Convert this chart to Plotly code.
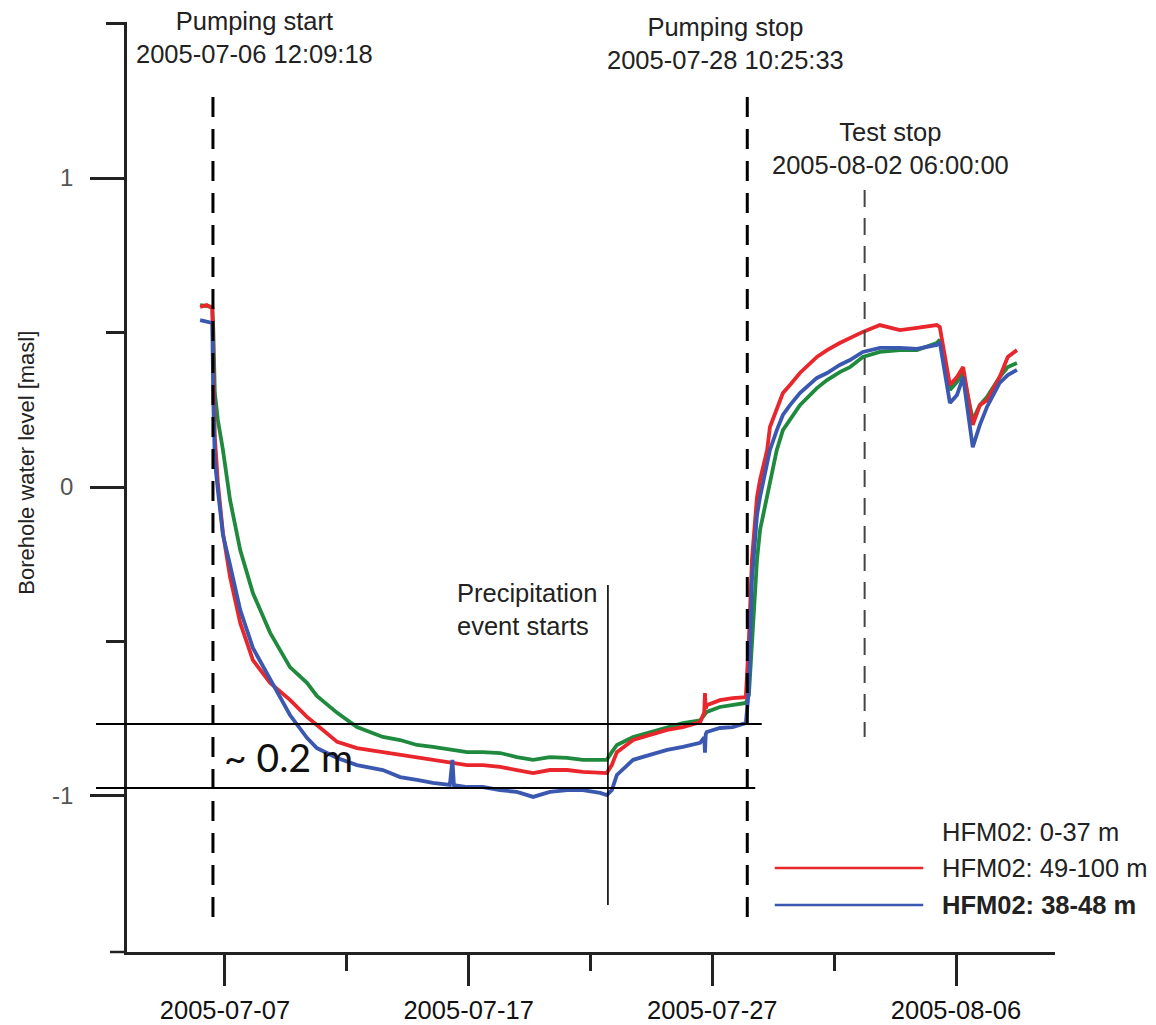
import plotly.graph_objects as go

# ---------------- data ----------------
times = [
    "2005-07-05 23:30", "2005-07-06 06:00", "2005-07-06 11:30", "2005-07-06 12:30",
    "2005-07-06 14:00", "2005-07-06 17:00", "2005-07-06 22:00", "2005-07-07 05:00",
    "2005-07-07 15:00", "2005-07-08 03:30", "2005-07-08 20:30", "2005-07-09 16:00",
    "2005-07-10 08:45", "2005-07-10 18:30", "2005-07-11 14:30", "2005-07-12 10:00",
    "2005-07-13 11:30", "2005-07-14 04:30", "2005-07-14 21:00", "2005-07-15 12:45",
    "2005-07-16 05:30", "2005-07-16 08:00", "2005-07-16 09:30", "2005-07-16 22:30",
    "2005-07-17 14:00", "2005-07-18 07:00", "2005-07-18 23:30", "2005-07-19 15:30",
    "2005-07-20 08:00", "2005-07-21 01:00", "2005-07-21 16:30", "2005-07-22 09:30",
    "2005-07-22 16:00", "2005-07-22 21:00", "2005-07-23 02:00", "2005-07-23 18:00",
    "2005-07-24 10:30", "2005-07-25 03:30", "2005-07-25 19:00", "2005-07-26 12:00",
    "2005-07-26 16:00", "2005-07-26 16:45", "2005-07-26 17:30", "2005-07-26 18:30",
    "2005-07-27 07:30", "2005-07-27 20:00", "2005-07-28 09:00", "2005-07-28 12:00",
    "2005-07-28 15:00", "2005-07-28 18:00", "2005-07-28 20:00", "2005-07-28 23:00",
    "2005-07-29 02:00", "2005-07-29 06:00", "2005-07-29 08:45", "2005-07-29 15:30",
    "2005-07-29 21:30", "2005-07-30 04:30", "2005-07-30 14:15", "2005-07-31 07:00",
    "2005-07-31 17:00", "2005-08-01 05:30", "2005-08-01 15:30", "2005-08-02 04:15",
    "2005-08-02 21:00", "2005-08-03 16:45", "2005-08-04 09:30", "2005-08-05 05:00",
    "2005-08-05 08:00", "2005-08-05 18:00", "2005-08-06 01:00", "2005-08-06 07:00",
    "2005-08-06 16:30", "2005-08-06 23:30", "2005-08-07 06:30", "2005-08-07 19:00",
    "2005-08-08 03:00", "2005-08-08 12:00",
]

green_0_37 = [
    0.589, 0.586, 0.583, 0.508, 0.304, 0.217, 0.120, -0.042,
    -0.204, -0.343, -0.472, -0.583, -0.634, -0.676, -0.731, -0.777,
    -0.809, -0.819, -0.835, -0.841, -0.851, -0.851, -0.852, -0.858,
    -0.858, -0.861, -0.874, -0.883, -0.874, -0.877, -0.883, -0.883,
    -0.883, -0.858, -0.835, -0.809, -0.793, -0.777, -0.764, -0.755,
    -0.740, -0.738, -0.735, -0.728, -0.712, -0.706, -0.699, -0.673,
    -0.495, -0.333, -0.236, -0.139, -0.091, -0.032, 0.006, 0.120,
    0.184, 0.217, 0.265, 0.320, 0.346, 0.372, 0.388, 0.421,
    0.437, 0.443, 0.443, 0.466, 0.476, 0.314, 0.340, 0.369,
    0.217, 0.265, 0.291, 0.356, 0.388, 0.401,
]

red_49_100 = [
    0.583, 0.589, 0.579, 0.346, 0.162, 0.013, -0.149, -0.291,
    -0.440, -0.560, -0.634, -0.689, -0.744, -0.770, -0.825, -0.845,
    -0.858, -0.865, -0.874, -0.883, -0.890, -0.890, -0.892, -0.900,
    -0.900, -0.906, -0.916, -0.926, -0.916, -0.916, -0.922, -0.926,
    -0.926, -0.900, -0.858, -0.819, -0.803, -0.786, -0.777, -0.761,
    -0.730, -0.667, -0.718, -0.706, -0.690, -0.683, -0.680, -0.495,
    -0.236, -0.091, -0.032, 0.023, 0.065, 0.120, 0.194, 0.249,
    0.304, 0.330, 0.369, 0.421, 0.443, 0.466, 0.482, 0.502,
    0.524, 0.508, 0.515, 0.524, 0.518, 0.330, 0.356, 0.388,
    0.201, 0.265, 0.281, 0.356, 0.421, 0.443,
]

blue_38_48 = [
    0.540, 0.534, 0.531, 0.282, 0.087, -0.010, -0.155, -0.252,
    -0.398, -0.521, -0.625, -0.738, -0.812, -0.845, -0.877, -0.900,
    -0.916, -0.939, -0.948, -0.958, -0.964, -0.883, -0.965, -0.971,
    -0.971, -0.981, -0.987, -1.003, -0.987, -0.981, -0.981, -0.990,
    -0.997, -0.981, -0.932, -0.883, -0.867, -0.851, -0.841, -0.828,
    -0.810, -0.860, -0.800, -0.793, -0.780, -0.777, -0.764, -0.657,
    -0.301, -0.172, -0.091, -0.032, 0.016, 0.078, 0.120, 0.184,
    0.233, 0.265, 0.304, 0.353, 0.369, 0.395, 0.411, 0.437,
    0.450, 0.450, 0.447, 0.460, 0.469, 0.272, 0.298, 0.356,
    0.129, 0.201, 0.259, 0.337, 0.362, 0.379,
]

series_names = ["HFM02: 0-37 m", "HFM02: 49-100 m", "HFM02: 38-48 m"]
series_colors = ["#1f8a3e", "#e8262b", "#3a58b0"]

pumping_start = "2005-07-06 12:09:18"
pumping_stop = "2005-07-28 10:25:33"
test_stop = "2005-08-02 06:00:00"
precip_start = "2005-07-22 17:10:00"
level_upper = -0.767
level_lower = -0.974

x_range = ["2005-07-02 23:30", "2005-08-10 01:30"]
y_range = [-1.505, 1.505]

FONT = "Liberation Sans, Arial, sans-serif"
FS = 25.5

fig = go.Figure()
for name, vals, col in zip(series_names, [green_0_37, red_49_100, blue_38_48], series_colors):
    fig.add_trace(go.Scatter(x=times, y=vals, mode="lines", name=name,
                             line=dict(color=col, width=3.8), showlegend=False))

# event lines
fig.add_shape(type="line", x0=pumping_start, x1=pumping_start, y0=1.262, y1=-1.401,
              xref="x", yref="y", line=dict(color="black", width=3, dash="20px,12px"))
fig.add_shape(type="line", x0=pumping_stop, x1=pumping_stop, y0=1.262, y1=-1.401,
              xref="x", yref="y", line=dict(color="black", width=3, dash="20px,12px"))
fig.add_shape(type="line", x0=test_stop, x1=test_stop, y0=0.961, y1=-0.809,
              xref="x", yref="y", line=dict(color="#444444", width=2, dash="17px,11px"))
fig.add_shape(type="line", x0=precip_start, x1=precip_start, y0=-0.317, y1=-1.353,
              xref="x", yref="y", line=dict(color="black", width=1.6))

# 0.2 m level lines
fig.add_shape(type="line", x0=-0.0334, x1=0.684, y0=level_upper, y1=level_upper,
              xref="paper", yref="y", line=dict(color="black", width=2))
fig.add_shape(type="line", x0=-0.0334, x1=0.677, y0=level_lower, y1=level_lower,
              xref="paper", yref="y", line=dict(color="black", width=2))

# x-axis extension to the left of the y axis
fig.add_shape(type="line", x0=-0.0183, x1=0, y0=0, y1=0, xref="paper", yref="paper",
              line=dict(color="#222222", width=2.5))

# annotations
ann = dict(showarrow=False, font=dict(family=FONT, size=FS, color="#222222"))
fig.add_annotation(x="2005-07-08 05:30", y=1.456, text="Pumping start<br>2005-07-06 12:09:18",
                   xanchor="center", yanchor="middle", **ann)
fig.add_annotation(x="2005-07-27 13:24", y=1.437, text="Pumping stop<br>2005-07-28 10:25:33",
                   xanchor="center", yanchor="middle", **ann)
fig.add_annotation(x="2005-08-03 07:55", y=1.097, text="Test stop<br>2005-08-02 06:00:00",
                   xanchor="center", yanchor="middle", **ann)
fig.add_annotation(x="2005-07-16 10:30", y=-0.398, text="Precipitation<br>event starts",
                   xanchor="left", yanchor="middle", align="left", **ann)
fig.add_annotation(x="2005-07-06 21:00", y=-0.874, text="~ 0.2 m", showarrow=False,
                   xanchor="left", yanchor="middle",
                   font=dict(family="Lato, Open Sans, sans-serif", size=39, color="#111111"))
fig.add_annotation(x=-0.1078, y=0.526, xref="paper", yref="paper", text="Borehole water level [masl]",
                   textangle=-90, showarrow=False, xanchor="center", yanchor="middle",
                   font=dict(family=FONT, size=22, color="#222222"))

# manual legend
leg_y = [0.129, 0.0903, 0.0505]
leg_text = ["HFM02: 0-37 m", "HFM02: 49-100 m", "<b>HFM02: 38-48 m</b>"]
for i, (yy, tt) in enumerate(zip(leg_y, leg_text)):
    fig.add_annotation(x=0.876, y=yy, xref="paper", yref="paper", text=tt, showarrow=False,
                       xanchor="left", yanchor="middle", font=dict(family=FONT, size=FS, color="#222222"))
    if i > 0:
        fig.add_shape(type="line", x0=0.698, x1=0.858, y0=yy, y1=yy, xref="paper", yref="paper",
                      line=dict(color=series_colors[i], width=2.5))

fig.update_layout(
    width=1156, height=1025, autosize=False,
    margin=dict(l=127, r=101, t=22, b=73, autoexpand=False),
    paper_bgcolor="white", plot_bgcolor="white",
    font=dict(family=FONT, size=FS, color="#222222"),
    showlegend=False,
)
fig.update_xaxes(
    type="date", range=x_range, showgrid=False, zeroline=False, automargin=False,
    showline=True, linecolor="#222222", linewidth=2.5,
    tick0="2005-07-07", dtick=10 * 86400000, tickformat="%Y-%m-%d",
    ticks="outside", ticklen=31, tickwidth=2.5, tickcolor="#222222",
    tickfont=dict(family=FONT, size=FS, color="#111111"),
    ticklabelstandoff=3,
    minor=dict(tick0="2005-07-02", dtick=5 * 86400000, ticks="outside", ticklen=16,
               tickwidth=2.5, tickcolor="#222222", showgrid=False),
)
fig.update_yaxes(
    range=y_range, showgrid=False, zeroline=False, automargin=False,
    showline=True, linecolor="#222222", linewidth=2.5,
    tickvals=[-1, 0, 1], ticktext=["-1", "0", "1"],
    ticks="outside", ticklen=34, tickwidth=2.5, tickcolor="#222222",
    tickfont=dict(family=FONT, size=24, color="#555555"),
    ticklabelstandoff=12,
    minor=dict(tickvals=[-0.5, 0.5, 1.5], ticks="outside", ticklen=18,
               tickwidth=2.5, tickcolor="#222222", showgrid=False),
)

fig.write_html("out.html")
